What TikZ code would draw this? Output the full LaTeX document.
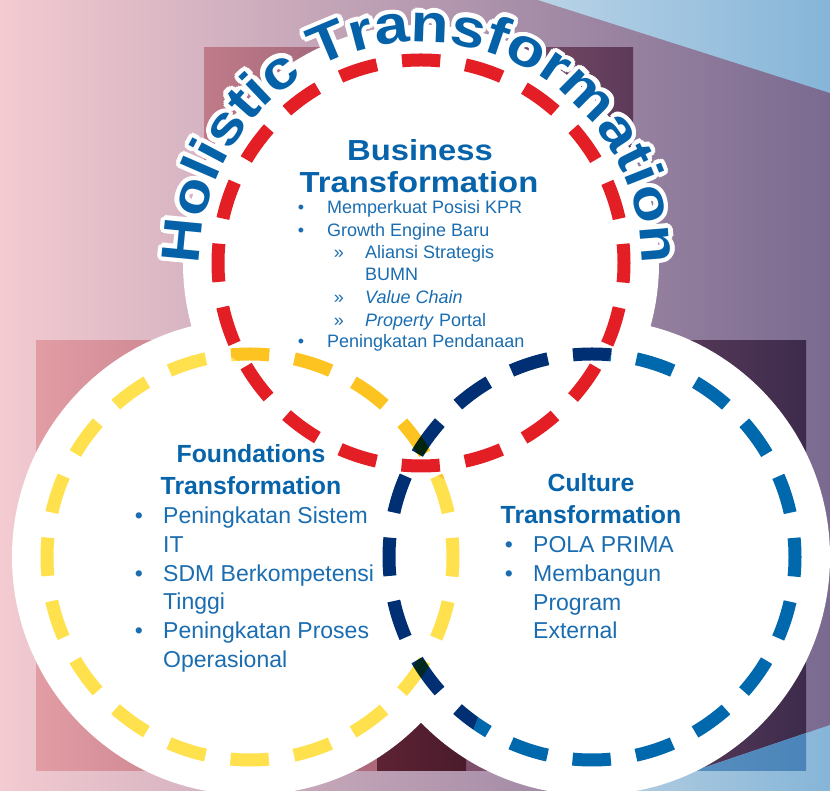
\documentclass[tikz,border=0pt]{standalone}
\usepackage{fontspec}
\setmainfont{Liberation Sans}
\newfontfamily\headwide[FakeStretch=1.13]{Liberation Sans}
\newfontfamily\arcwide[FakeStretch=1.15]{Liberation Sans}
\usetikzlibrary{decorations.text}

\definecolor{bgL}{HTML}{F3CBD1}
\definecolor{bgM}{HTML}{C89AAA}
\definecolor{bgR}{HTML}{7A6A90}
\definecolor{skyL}{HTML}{B9D3E7}
\definecolor{skyR}{HTML}{86B5D8}
\definecolor{skyBL}{HTML}{AECBE0}
\definecolor{deepskyL}{HTML}{5E93C3}
\definecolor{deepskyR}{HTML}{4882B7}
\definecolor{plumTL}{HTML}{C07B89}
\definecolor{plumTR}{HTML}{5D3A59}
\definecolor{roseL}{HTML}{E29CA4}
\definecolor{roseR}{HTML}{9E5B6D}
\definecolor{duskL}{HTML}{935A74}
\definecolor{duskR}{HTML}{3D2B4C}
\definecolor{wineL}{HTML}{5D2335}
\definecolor{wineR}{HTML}{4A1B2B}
\definecolor{ringred}{HTML}{E31E25}
\definecolor{ringyellow}{HTML}{FFE14D}
\definecolor{ringgold}{HTML}{FDC421}
\definecolor{ringblue}{HTML}{0068AD}
\definecolor{ringnavy}{HTML}{002F73}
\definecolor{titleblue}{HTML}{0763AA}
\definecolor{bodyblue}{HTML}{1A6DB0}
\definecolor{arcblue}{HTML}{0562A9}

\tikzset{
  ring/.style={line width=13pt, dash pattern=on 38.3pt off 25.46pt,
    dash phase=19.15pt, blend mode=multiply},
  disc/.style={fill=white, draw=none},
  bizhead/.style={font=\headwide\bfseries\fontsize{29}{33}\selectfont,
    text=titleblue, inner sep=0pt, anchor=base},
  bizitem/.style={font=\fontsize{18}{22}\selectfont, text=bodyblue,
    inner sep=0pt, anchor=base west},
  bizdot/.style={font=\fontsize{18}{22}\selectfont, text=bodyblue,
    inner sep=0pt, anchor=base},
  subhead/.style={font=\bfseries\fontsize{24.8}{32}\selectfont,
    text=titleblue, inner sep=0pt, anchor=base},
  subitem/.style={font=\fontsize{23}{28}\selectfont, text=bodyblue,
    inner sep=0pt, anchor=base west},
  subdot/.style={font=\fontsize{23}{28}\selectfont, text=bodyblue,
    inner sep=0pt, anchor=base},
}

\begin{document}
\begin{tikzpicture}[x=1pt,y=1pt]
\useasboundingbox (0,0) rectangle (830,791);

% backdrop
\shade[left color=bgL, middle color=bgM, right color=bgR] (0,0) rectangle (830,791);
\shade[left color=skyL, right color=skyR] (538,791) -- (830,791) -- (830,698) -- cycle;

% square panels behind the circles
\shade[left color=plumTL, right color=plumTR] (204,314) rectangle (633,743);
\shade[left color=roseL, right color=roseR] (36,20) rectangle (466,450);
\shade[left color=duskL, right color=duskR] (377,20) rectangle (806,450);
\shade[left color=wineL, right color=wineR] (377,20) rectangle (466,450);

% lower blue wedge
\shade[left color=skyBL, right color=skyR] (635,0) -- (830,66) -- (830,0) -- cycle;
\begin{scope}
  \clip (377,20) rectangle (806,450);
  \shade[left color=deepskyL, right color=deepskyR] (635,0) -- (830,66) -- (830,0) -- cycle;
\end{scope}

% circle centres
\coordinate (ctop) at (421,528);
\coordinate (cleft) at (250,234);
\coordinate (cright) at (592,234);

% white discs
\fill[disc] (ctop) circle[radius=238];
\fill[disc] (cleft) circle[radius=238];
\fill[disc] (cright) circle[radius=238];

% dashed rings
\begin{scope}
  \clip (0,0) -- (830,0) -- (830,90) -- (0,567) -- cycle;
  \draw[ring, ringyellow] (cleft) circle[radius=203];
\end{scope}
\begin{scope}
  \clip (0,567) -- (830,90) -- (830,791) -- (0,791) -- cycle;
  \draw[ring, ringgold] (cleft) circle[radius=203];
\end{scope}
\begin{scope}
  \clip (0,0) -- (451,0) -- (741,791) -- (0,791) -- cycle;
  \draw[ring, ringnavy] (cright) circle[radius=203];
\end{scope}
\begin{scope}
  \clip (451,0) -- (830,0) -- (830,791) -- (741,791) -- cycle;
  \draw[ring, ringblue] (cright) circle[radius=203];
\end{scope}
\draw[ring, ringred] (ctop) circle[radius=203];

% arched heading with a white halo
\foreach \a in {0,22.5,...,337.5} {
  \path[decorate, decoration={text along path, text align=center,
      text={|\arcwide\bfseries\fontsize{54}{54}\selectfont\color{white}|Holistic Transformation}}]
    ([shift={(\a:4.5)}]ctop) ++(190:221) arc[start angle=190, end angle=-10, radius=221];
}
\path[decorate, decoration={text along path, text align=center,
    text={|\arcwide\bfseries\fontsize{54}{54}\selectfont\color{arcblue}|Holistic Transformation}}]
  (ctop) ++(190:221) arc[start angle=190, end angle=-10, radius=221];

% Business Transformation
\node[bizhead] (bizT1) at (420,630) {Business};
\node[bizhead] (bizT2) at (419,598) {Transformation};
\node[bizdot] (bd1) at (301,577) {•};
\node[bizitem] (bi1) at (327,577) {Memperkuat Posisi KPR};
\node[bizdot] (bd2) at (301,554) {•};
\node[bizitem] (bi2) at (327,554) {Growth Engine Baru};
\node[bizdot] (bs1) at (339,532) {»};
\node[bizitem] (bi3) at (365,532) {Aliansi Strategis};
\node[bizitem] (bi4) at (365,510) {BUMN};
\node[bizdot] (bs2) at (339,487) {»};
\node[bizitem] (bi5) at (365,487) {\itshape Value Chain};
\node[bizdot] (bs3) at (339,464) {»};
\node[bizitem] (bi6) at (365,464) {\textit{Property} Portal};
\node[bizdot] (bd3) at (301,443) {•};
\node[bizitem] (bi7) at (327,443) {Peningkatan Pendanaan};

% Foundations Transformation
\node[subhead] (fT1) at (251,328) {Foundations};
\node[subhead] (fT2) at (251,296) {Transformation};
\node[subdot] (fd1) at (139,267) {•};
\node[subitem] (fi1) at (163,267) {Peningkatan Sistem};
\node[subitem] (fi2) at (163,238) {IT};
\node[subdot] (fd2) at (139,209) {•};
\node[subitem] (fi3) at (163,209) {SDM Berkompetensi};
\node[subitem] (fi4) at (163,181) {Tinggi};
\node[subdot] (fd3) at (139,152) {•};
\node[subitem] (fi5) at (163,152) {Peningkatan Proses};
\node[subitem] (fi6) at (163,123) {Operasional};

% Culture Transformation
\node[subhead] (cT1) at (591,299) {Culture};
\node[subhead] (cT2) at (591,267) {Transformation};
\node[subdot] (cd1) at (509,238) {•};
\node[subitem] (ci1) at (533,238) {POLA PRIMA};
\node[subdot] (cd2) at (509,209) {•};
\node[subitem] (ci2) at (533,209) {Membangun};
\node[subitem] (ci3) at (533,180) {Program};
\node[subitem] (ci4) at (533,152) {External};
\end{tikzpicture}
\end{document}
